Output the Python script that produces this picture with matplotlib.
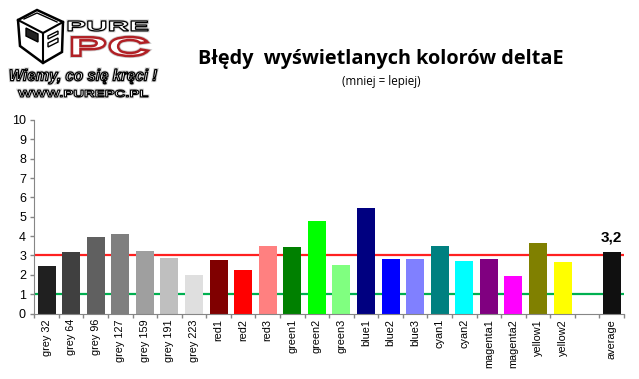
import matplotlib
matplotlib.use('Agg')
import matplotlib.pyplot as plt
from matplotlib.font_manager import FontProperties
from matplotlib.patches import PathPatch, Polygon
from matplotlib.textpath import TextPath
from matplotlib.transforms import Affine2D
import matplotlib.patheffects as pe

plt.rcParams['font.family'] = ['Liberation Sans', 'DejaVu Sans']

# --- Data ---
labels = ['grey 32', 'grey 64', 'grey 96', 'grey 127', 'grey 159', 'grey 191', 'grey 223',
          'red1', 'red2', 'red3', 'green1', 'green2', 'green3',
          'blue1', 'blue2', 'blue3', 'cyan1', 'cyan2',
          'magenta1', 'magenta2', 'yellow1', 'yellow2', '', 'average']
values = [2.45, 3.17, 3.95, 4.1, 3.22, 2.86, 1.98,
          2.76, 2.24, 3.48, 3.43, 4.78, 2.5,
          5.45, 2.81, 2.81, 3.48, 2.71,
          2.81, 1.93, 3.64, 2.66, 0, 3.17]
colors = ['#202020', '#404040', '#606060', '#7f7f7f', '#9f9f9f', '#bfbfbf', '#dfdfdf',
          '#800000', '#ff0000', '#ff8080', '#008000', '#00ff00', '#80ff80',
          '#000080', '#0000ff', '#8080ff', '#008080', '#00ffff',
          '#800080', '#ff00ff', '#808000', '#ffff00', '#ffffff', '#101010']
limit_red = 3
limit_green = 1
average_label = '3,2'

W, H = 639, 379
fig = plt.figure(figsize=(W / 100, H / 100), dpi=100)

# --- Chart ---
ax = fig.add_axes([34.3 / W, 1 - 313.5 / H, (624 - 34.3) / W, (313.5 - 120) / H])
x = list(range(len(labels)))
ax.axhline(limit_red, color='#ff2020', lw=1.6, zorder=1)
ax.axhline(limit_green, color='#00b050', lw=1.6, zorder=1)
ax.bar(x, values, width=0.73, color=colors, zorder=2)

ax.set_xlim(-0.5, len(labels) - 0.5)
ax.set_ylim(0, 10)
ax.set_yticks(range(11))
ax.set_xticks(x)
ax.set_xticklabels(labels, rotation=90, fontsize=7.8)
ax.set_xticks([i - 0.5 for i in range(len(labels) + 1)], minor=True)
ax.tick_params(axis='x', which='major', length=0, pad=4)
ax.tick_params(axis='x', which='minor', length=3, width=1, color='#868686')
ax.tick_params(axis='y', length=3, width=1, color='#868686', labelsize=9, pad=3)
ax.spines['top'].set_visible(False)
ax.spines['right'].set_visible(False)
ax.spines['left'].set_color('#868686')
ax.spines['bottom'].set_color('#868686')
ax.text(x[-1], values[-1] + 0.38, average_label, ha='center', va='bottom',
        fontsize=11, fontweight='bold')

# --- Titles and logo, in pixel coordinates ---
top = fig.add_axes([0, 0, 1, 1], zorder=5)
top.set_xlim(0, W)
top.set_ylim(H, 0)
top.axis('off')
top.text(381, 59, 'Błędy  wyświetlanych kolorów deltaE', ha='center', va='center',
         fontsize=14.3, fontweight='bold', family='Open Sans')
top.text(381, 81, '(mniej = lepiej)', ha='center', va='center', fontsize=8.4, family='Open Sans')


def fit_text(s, x0, y0, x1, y1, fc, ec, lw, style='normal', weight='bold'):
    # stretch the text outline into a pixel box
    tp = TextPath((0, 0), s, size=10, prop=FontProperties(family='Liberation Sans', style=style, weight=weight))
    bb = tp.get_extents()
    tr = Affine2D().translate(-bb.x0, -bb.y0).scale((x1 - x0) / bb.width, -(y1 - y0) / bb.height).translate(x0, y1)
    top.add_patch(PathPatch(tr.transform_path(tp), fc=fc, ec=ec, lw=lw, zorder=3,
                            path_effects=[pe.withStroke(linewidth=lw + 1.2, foreground='#cccccc')]))


# box icon
box = [(18, 20), (37, 10), (63, 22), (62, 52), (43, 63), (20, 46)]
top.add_patch(Polygon(box, closed=True, fc='white', ec='black', lw=1.8, zorder=2))
top.plot([18, 43, 63], [20, 33, 22], color='black', lw=1.5, zorder=3)
top.plot([43, 43], [33, 63], color='black', lw=1.5, zorder=3)
top.plot([24, 37, 57], [19, 13, 22], color='black', lw=1, zorder=3)
top.add_patch(Polygon([(26, 28), (38, 34), (38, 42), (26, 36)], closed=True, fc='#222222', ec='black', zorder=3))
top.add_patch(Polygon([(48, 36), (58, 31), (58, 34), (48, 39)], closed=True, fc='white', ec='black', lw=1, zorder=3))
top.add_patch(Polygon([(48, 43), (58, 38), (58, 42), (48, 47)], closed=True, fc='white', ec='black', lw=1, zorder=3))

fit_text('PURE', 68, 21, 148, 31, 'white', 'black', 0.9)
fit_text('PC', 72, 37, 148, 56, 'white', '#b02025', 1.8)
fit_text('Wiemy, co się kręci !', 10, 69, 157, 84, 'white', 'black', 0.9, style='italic')
fit_text('WWW.PUREPC.PL', 18, 90, 148, 97, 'white', 'black', 0.8)

fig.savefig('out.png', dpi=100)
